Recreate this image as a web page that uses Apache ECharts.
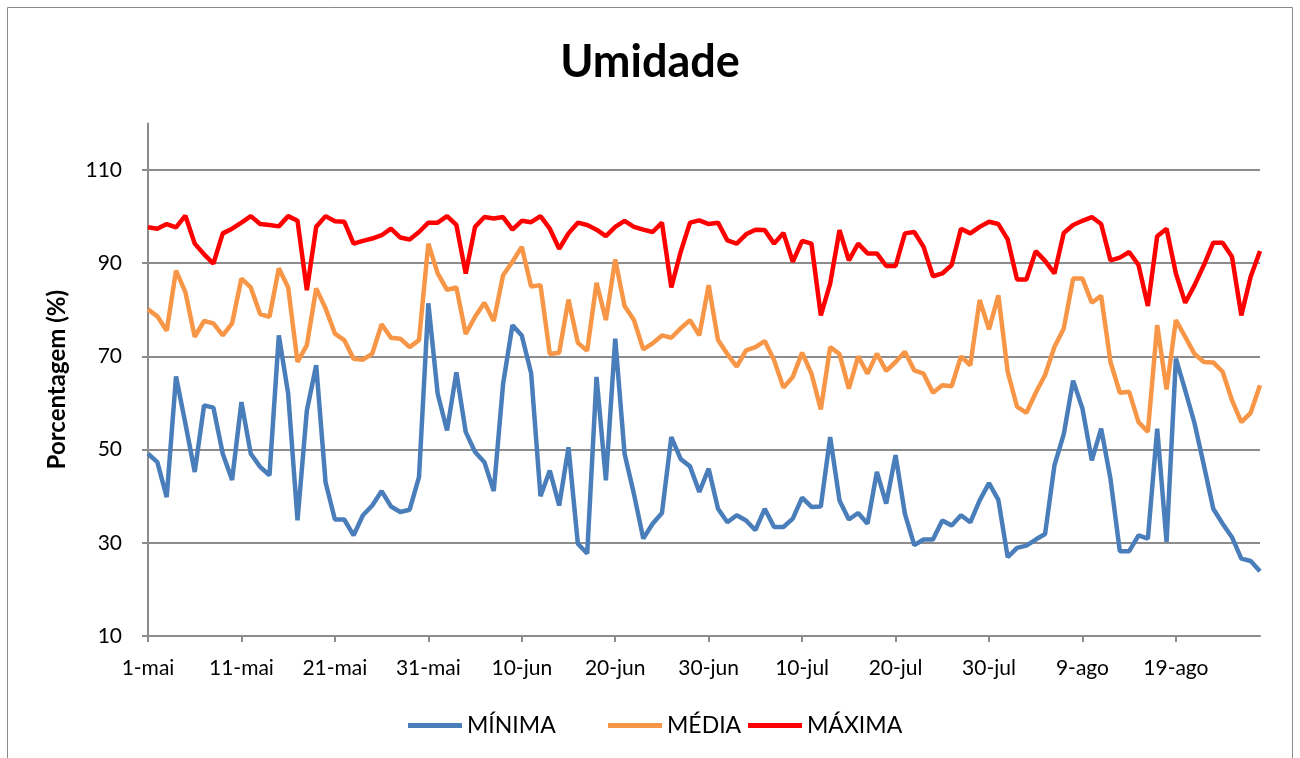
<!DOCTYPE html>
<html>
<head>
<meta charset="utf-8">
<title>Umidade</title>
<script src="https://cdn.jsdelivr.net/npm/echarts@6/dist/echarts.min.js"></script>
<style>
  html, body { margin: 0; padding: 0; background: #fff; }
  #chart { width: 1300px; height: 758px; }
</style>
</head>
<body>
<div id="chart"></div>
<script>
// daily categories, 1-mai .. 28-ago
const months = [['mai', 31], ['jun', 30], ['jul', 31], ['ago', 28]];
const days = [];
months.forEach(([m, n]) => {
  for (let d = 1; d <= n; d++) days.push(d + '-' + m);
});

const xTickLabels = ['1-mai', '11-mai', '21-mai', '31-mai', '10-jun', '20-jun',
  '30-jun', '10-jul', '20-jul', '30-jul', '9-ago', '19-ago'];
const yTicks = [10, 30, 50, 70, 90, 110];

const minima = [
  49.1, 47.3, 39.8, 65.7, 55.6, 45.2, 59.5, 59.0, 49.1, 43.5,
  60.2, 49.1, 46.3, 44.5, 74.5, 62.0, 34.8, 58.4, 68.1, 43.0,
  35.0, 35.0, 31.6, 35.9, 38.0, 41.1, 37.8, 36.6, 37.1, 44.1,
  81.4, 62.0, 54.1, 66.6, 53.8, 49.5, 47.3, 41.1, 64.1, 76.7,
  74.5, 66.4, 40.0, 45.5, 38.0, 50.5, 29.8, 27.7, 65.6, 43.4,
  73.8, 49.1, 40.5, 30.9, 34.1, 36.4, 52.7, 48.0, 46.4, 40.9,
  45.9, 37.3, 34.4, 35.9, 34.8, 32.7, 37.3, 33.4, 33.4, 35.2,
  39.7, 37.7, 37.8, 52.7, 39.1, 35.0, 36.4, 34.1, 45.2, 38.4,
  48.8, 36.2, 29.5, 30.7, 30.7, 34.8, 33.7, 35.9, 34.4, 39.1,
  42.8, 39.2, 26.9, 28.9, 29.4, 30.7, 31.9, 46.6, 53.3, 64.8,
  58.8, 47.7, 54.5, 43.7, 28.2, 28.2, 31.6, 30.9, 54.5, 30.2,
  69.5, 62.7, 55.6, 46.6, 37.3, 34.1, 31.2, 26.6, 26.1, 23.9
];

const media = [
  80.1, 78.6, 75.5, 88.4, 83.8, 74.2, 77.6, 77.1, 74.5, 77.1,
  86.7, 84.8, 79.1, 78.5, 88.9, 84.8, 68.8, 72.4, 84.6, 80.3,
  74.9, 73.5, 69.5, 69.3, 70.6, 76.9, 74.0, 73.8, 72.0, 73.5,
  94.2, 87.8, 84.3, 84.8, 74.8, 78.5, 81.5, 77.6, 87.4, 90.3,
  93.5, 85.0, 85.3, 70.5, 70.8, 82.2, 72.9, 71.2, 85.8, 77.8,
  90.8, 80.8, 77.8, 71.5, 72.8, 74.5, 74.0, 76.0, 77.8, 74.5,
  85.3, 73.5, 70.5, 67.8, 71.3, 72.0, 73.3, 69.2, 63.3, 65.6,
  70.8, 66.3, 58.6, 72.0, 70.5, 63.1, 70.0, 66.3, 70.6, 66.9,
  68.8, 71.0, 67.0, 66.3, 62.2, 63.8, 63.6, 70.0, 68.1, 82.1,
  75.8, 83.1, 66.7, 59.2, 57.9, 62.2, 66.0, 72.0, 76.0, 86.7,
  86.7, 81.5, 83.0, 68.8, 62.2, 62.4, 55.9, 53.8, 76.7, 62.9,
  77.8, 74.2, 70.5, 68.8, 68.7, 66.7, 60.6, 55.9, 57.9, 63.8
];

const maxima = [
  97.7, 97.4, 98.4, 97.7, 100.2, 94.2, 91.9, 89.9, 96.4, 97.4,
  98.7, 100.1, 98.4, 98.2, 97.9, 100.1, 99.1, 84.2, 97.8, 100.1,
  99.0, 98.9, 94.2, 94.8, 95.3, 96.0, 97.4, 95.5, 95.1, 96.7,
  98.7, 98.7, 100.1, 98.2, 87.8, 97.8, 99.9, 99.6, 99.9, 97.2,
  99.1, 98.8, 100.1, 97.4, 93.1, 96.4, 98.7, 98.2, 97.2, 95.8,
  97.8, 99.1, 97.8, 97.2, 96.7, 98.7, 84.8, 92.4, 98.7, 99.2,
  98.4, 98.7, 94.9, 94.2, 96.2, 97.2, 97.1, 94.2, 96.5, 90.3,
  94.8, 94.2, 78.8, 85.6, 97.1, 90.6, 94.2, 92.1, 92.1, 89.4,
  89.4, 96.4, 96.7, 93.5, 87.2, 87.8, 89.6, 97.4, 96.4, 97.8,
  98.9, 98.4, 95.1, 86.5, 86.5, 92.6, 90.5, 87.8, 96.5, 98.2,
  99.1, 99.9, 98.4, 90.6, 91.2, 92.4, 89.6, 80.8, 95.8, 97.4,
  87.8, 81.5, 85.3, 89.6, 94.4, 94.4, 91.4, 78.8, 87.1, 92.6
];

const FONT = 'Lato';
const gridGray = '#8c8c8c';
const showTick = (idx, val) => xTickLabels.includes(val);

// one legend per entry so each can sit where the reference has it
const legendItem = (name, left) => ({
  data: [name],
  left: left,
  bottom: 16,
  icon: 'rect',
  itemWidth: 54,
  itemHeight: 5,
  textStyle: { fontFamily: FONT, fontSize: 23, color: '#000' }
});

const chart = echarts.init(document.getElementById('chart'), null, { renderer: 'canvas' });

chart.setOption({
  animation: false,
  backgroundColor: '#fff',
  textStyle: { fontFamily: FONT },
  graphic: [{
    type: 'rect',
    shape: { x: 7.5, y: 7.5, width: 1285, height: 770 },
    style: { fill: 'none', stroke: '#8a8a8a', lineWidth: 1 },
    silent: true
  }],
  title: {
    text: 'Umidade',
    left: 'center',
    top: 35,
    textStyle: { fontFamily: FONT, fontSize: 45, fontWeight: 'bold', color: '#000' }
  },
  legend: [
    legendItem('MÍNIMA', 403),
    legendItem('MÉDIA', 603),
    legendItem('MÁXIMA', 743)
  ],
  grid: { left: 148, right: 40, top: 123.4, bottom: 122, containLabel: false },
  xAxis: {
    type: 'category',
    data: days,
    boundaryGap: false,
    axisLine: { lineStyle: { color: gridGray, width: 2 } },
    axisTick: { show: true, interval: showTick, length: 6, lineStyle: { color: gridGray, width: 2 } },
    axisLabel: {
      interval: showTick,
      margin: 22,
      fontFamily: FONT,
      fontSize: 21,
      color: '#000'
    },
    splitLine: { show: false }
  },
  yAxis: {
    type: 'value',
    min: 10,
    max: 120,
    interval: 20,
    name: 'Porcentagem (%)',
    nameLocation: 'middle',
    nameGap: 79,
    nameRotate: 90,
    nameTextStyle: { fontFamily: FONT, fontSize: 24, fontWeight: 'bold', color: '#000' },
    axisLine: { show: true, lineStyle: { color: gridGray, width: 2 } },
    axisTick: { show: true, customValues: yTicks, length: 6, lineStyle: { color: gridGray, width: 2 } },
    axisLabel: {
      margin: 26,
      fontFamily: FONT,
      fontSize: 21,
      color: '#000',
      formatter: v => (yTicks.includes(v) ? String(v) : '')
    },
    splitLine: {
      show: true,
      lineStyle: { color: [gridGray, gridGray, gridGray, gridGray, gridGray, gridGray, 'rgba(0,0,0,0)'], width: 2 }
    }
  },
  series: [
    {
      name: 'MÍNIMA', type: 'line', data: minima, symbol: 'none',
      lineStyle: { color: '#4a7ebb', width: 4.5 }, itemStyle: { color: '#4a7ebb' }
    },
    {
      name: 'MÉDIA', type: 'line', data: media, symbol: 'none',
      lineStyle: { color: '#f79646', width: 4.5 }, itemStyle: { color: '#f79646' }
    },
    {
      name: 'MÁXIMA', type: 'line', data: maxima, symbol: 'none',
      lineStyle: { color: '#ff0000', width: 4.5 }, itemStyle: { color: '#ff0000' }
    }
  ]
});
</script>
</body>
</html>
